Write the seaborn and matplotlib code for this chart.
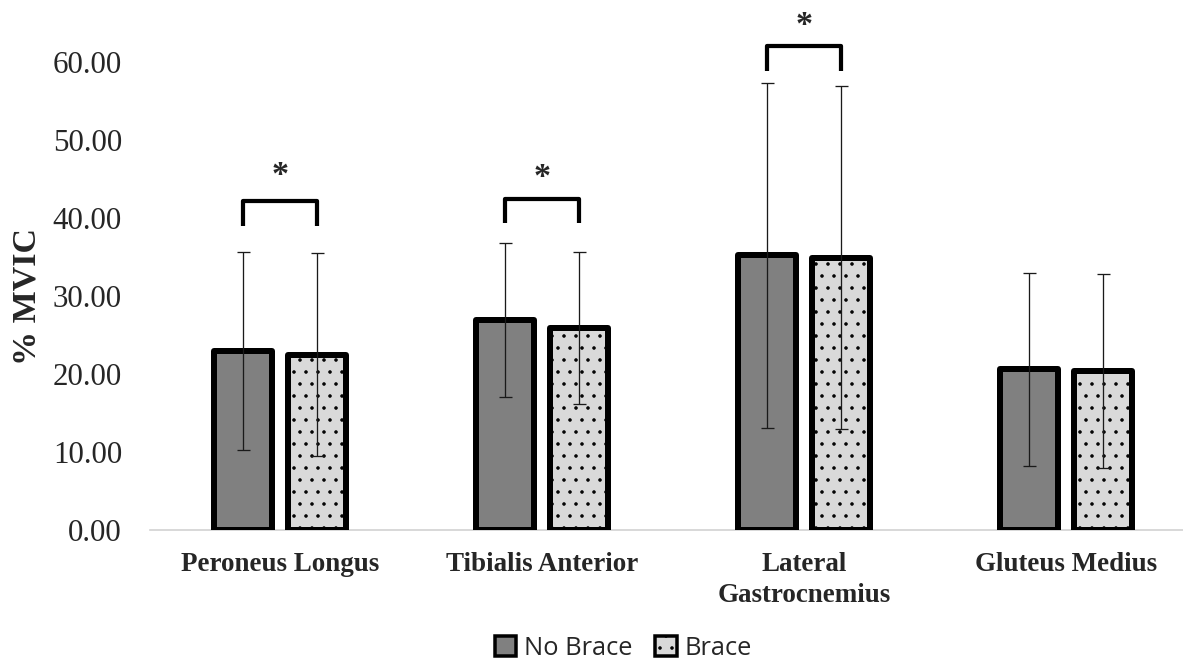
import matplotlib
matplotlib.use("Agg")
import matplotlib.pyplot as plt
import matplotlib.patches as mpatches
import seaborn as sns
import pandas as pd
import numpy as np

# ---- data ----
muscles = ["Peroneus Longus", "Tibialis Anterior", "Lateral\nGastrocnemius", "Gluteus Medius"]
conditions = ["No Brace", "Brace"]
no_brace_mean = [22.9, 26.9, 35.2, 20.6]
no_brace_sd = [12.7, 9.9, 22.1, 12.4]
brace_mean = [22.5, 25.9, 34.9, 20.4]
brace_sd = [13.0, 9.8, 22.0, 12.4]
y_ticks = [0, 10, 20, 30, 40, 50, 60]
# significance brackets: (muscle index, bracket top, leg bottom, star y)
sig_muscles = [0, 1, 2]
sig_top = [42.2, 42.4, 62.1]
sig_leg = [39.0, 39.3, 58.8]
sig_star = [45.5, 45.2, 64.7]

df = pd.DataFrame({
    "muscle": muscles * 2,
    "condition": ["No Brace"] * 4 + ["Brace"] * 4,
    "mean": no_brace_mean + brace_mean,
})
sds = {"No Brace": no_brace_sd, "Brace": brace_sd}
means = {"No Brace": no_brace_mean, "Brace": brace_mean}

sns.set_style("white")
plt.rcParams["font.family"] = ["Liberation Serif", "DejaVu Serif"]
plt.rcParams["hatch.linewidth"] = 1.1

DPI = 72
fig = plt.figure(figsize=(1183 / DPI, 664 / DPI), dpi=DPI)
ax = fig.add_axes([150 / 1183, 134 / 664, 1 - 150 / 1183, 530 / 664])

palette = {"No Brace": "#808080", "Brace": "#d9d9d9"}
sns.barplot(data=df, x="muscle", y="mean", hue="condition", order=muscles,
            hue_order=conditions, palette=palette, width=0.565, gap=0.22,
            errorbar=None, edgecolor="black", linewidth=6, legend=False,
            saturation=1, ax=ax, zorder=3)

centers = {}
for cond, cont in zip(conditions, ax.containers):
    xs = []
    for bar in cont:
        bar.set_joinstyle("round")
        bar.set_edgecolor("black")
        if cond == "Brace":
            bar.set_hatch(".")
        xs.append(bar.get_x() + bar.get_width() / 2)
    centers[cond] = xs
    ax.errorbar(xs, means[cond], yerr=sds[cond], fmt="none",
                ecolor="#1a1a1a", elinewidth=1.3, capsize=6.5, capthick=1.3, zorder=6)

for i, top, leg, star in zip(sig_muscles, sig_top, sig_leg, sig_star):
    x1 = centers["No Brace"][i]
    x2 = centers["Brace"][i]
    ax.plot([x1, x1, x2, x2], [leg, top, top, leg], color="black", lw=4.2,
            solid_joinstyle="round", solid_capstyle="butt", zorder=6)
    ax.text((x1 + x2) / 2, star, "*", ha="center", va="center",
            fontsize=34, fontweight="bold", zorder=6)

ax.set_xlim(-0.496, 3.447)
ax.set_ylim(0, 530 / 7.8)
ax.set_yticks(y_ticks)
ax.set_yticklabels([f"{v:.2f}" for v in y_ticks], fontsize=31)
ax.tick_params(axis="y", length=0, pad=28)
ax.tick_params(axis="x", length=0, pad=22)
for lab in ax.get_xticklabels():
    lab.set_fontsize(27)
    lab.set_fontweight("bold")
    lab.set_linespacing(1.3)
ax.set_xlabel("")
ax.set_ylabel("% MVIC", fontsize=34, fontweight="bold")
ax.yaxis.set_label_coords(-0.104, 0.44)

for s in ["top", "right", "left"]:
    ax.spines[s].set_visible(False)
ax.spines["bottom"].set_color("#d0d0d0")
ax.spines["bottom"].set_linewidth(1.6)
ax.spines["bottom"].set_zorder(1)

handles = [
    mpatches.Patch(facecolor=palette["No Brace"], edgecolor="black", linewidth=3.5,
                   joinstyle="round", label="No Brace"),
    mpatches.Patch(facecolor=palette["Brace"], edgecolor="black", linewidth=3.5,
                   joinstyle="round", hatch=".", label="Brace"),
]
fig.legend(handles=handles, loc="center", bbox_to_anchor=(0.527, 0.024),
           ncol=2, frameon=False, prop={"family": "Open Sans", "size": 25.5},
           handlelength=0.85, handleheight=0.85, handletextpad=0.3,
           columnspacing=0.9, borderaxespad=0)

fig.savefig("out.png", dpi=DPI)
